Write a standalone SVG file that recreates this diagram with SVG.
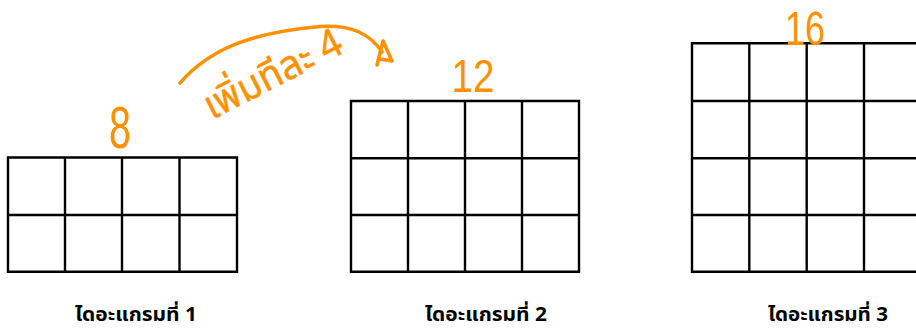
<svg xmlns="http://www.w3.org/2000/svg" width="916" height="329" viewBox="0 0 916 329">
<style>
.g{fill:none;stroke:#000;stroke-width:2.4}
.lbl{font-family:"Noto Sans Thai","Noto Sans","Liberation Sans",sans-serif;font-weight:bold;font-size:19px;fill:#000;text-anchor:middle}
.hw{font-family:"Noto Sans Thai","Noto Sans","Liberation Sans",sans-serif;fill:#FF9100;stroke:#FF9100;stroke-width:0.4}
.num{font-family:"Liberation Sans",sans-serif;fill:#FF9100;text-anchor:middle}
.ink{fill:none;stroke:#FF9100;stroke-width:3.5;stroke-linecap:round;stroke-linejoin:round}
</style>
<rect width="916" height="329" fill="#fff"/>
<g id="diagram1">
<path class="g" d="M8,157.5H237V271.7H8Z M8,215H237 M65,157.5V271.7 M122,157.5V271.7 M179.5,157.5V271.7"/>
<text class="num" x="120" y="148" font-size="60" textLength="22" lengthAdjust="spacingAndGlyphs">8</text>
<text class="lbl" x="136" y="321" textLength="122" lengthAdjust="spacingAndGlyphs">ไดอะแกรมที่ 1</text>
</g>
<g id="diagram2">
<path class="g" d="M351,101H579V271.7H351Z M351,158.3H579 M351,215H579 M408,101V271.7 M465,101V271.7 M522,101V271.7"/>
<text class="num" x="473" y="92" font-size="46" textLength="43" lengthAdjust="spacingAndGlyphs">12</text>
<text class="lbl" x="486" y="321" textLength="122" lengthAdjust="spacingAndGlyphs">ไดอะแกรมที่ 2</text>
</g>
<g id="diagram3">
<path class="g" d="M692,43.3H922V271.7H692Z M692,101H922 M692,158.3H922 M692,215H922 M749.3,43.3V271.7 M806.7,43.3V271.7 M864,43.3V271.7"/>
<text class="num" x="805" y="45" font-size="49" textLength="40" lengthAdjust="spacingAndGlyphs">16</text>
<text class="lbl" x="828" y="321" textLength="120" lengthAdjust="spacingAndGlyphs">ไดอะแกรมที่ 3</text>
</g>
<g id="connectors">
<path class="ink" d="M180,83 C212,46 258,32 320,26.5 C352,24.5 370,34 382,52"/>
<path class="ink" d="M377,65 L383,41 L392,61 L380,59"/>
<text class="hw" x="0" y="0" font-size="40" transform="translate(212,120) rotate(-27)" textLength="150" lengthAdjust="spacingAndGlyphs">เพิ่มทีละ 4</text>
</g>
</svg>
